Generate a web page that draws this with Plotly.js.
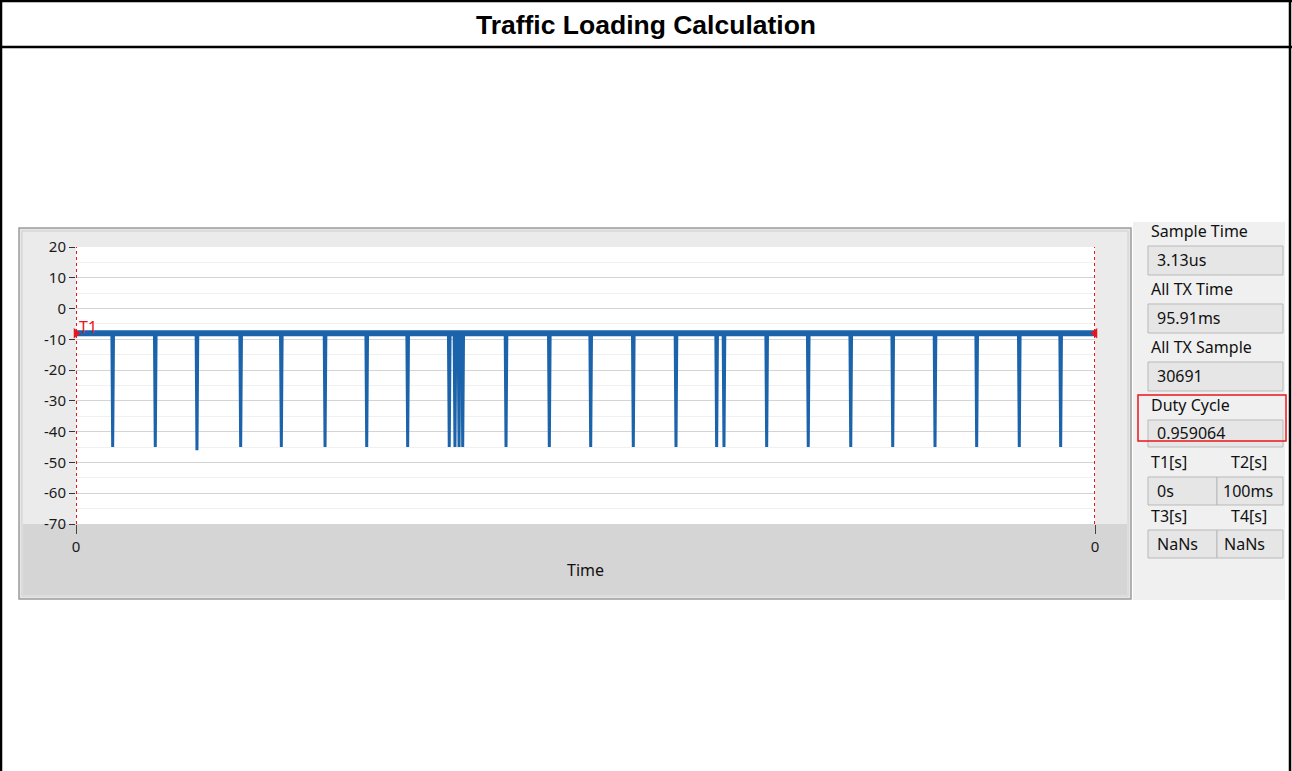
<!DOCTYPE html>
<html>
<head>
<meta charset="utf-8">
<script src="https://cdn.plot.ly/plotly-3.0.1.min.js"></script>
<style>
html,body{margin:0;padding:0;background:#fff;}
#chart{width:1292px;height:771px;}
</style>
</head>
<body>
<div id="chart"></div>
<script>
// ---- data ----
const chartTitle = "Traffic Loading Calculation";
const timeRangeMs = [0, 100];
const xTickLabels = ["0", "0"];
const yTickValues = [20, 10, 0, -10, -20, -30, -40, -50, -60, -70];
const baselineLevel = [-8, -8];
const baselineTimes = [0, 100];
const dipTimesMs = [3.60, 7.78, 11.87, 16.16, 20.15, 24.44, 28.53, 32.55, 36.63, 37.19, 37.59, 37.95,
                    42.20, 46.45, 50.51, 54.69, 58.88, 62.87, 63.59, 67.78, 71.86, 76.03, 80.15,
                    84.30, 88.39, 92.57, 96.63];
const dipDepths = [-45, -45, -46, -45, -45, -45, -45, -45, -45, -45, -45, -45,
                   -45, -45, -45, -45, -45, -45, -45, -45, -45, -45, -45,
                   -45, -45, -45, -45];
const cursorTimes = [0, 100];
const cursorNames = ["T1"];
const panelLabels = ["Sample Time", "All TX Time", "All TX Sample", "Duty Cycle"];
const panelValues = ["3.13us", "95.91ms", "30691", "0.959064"];
const cursorLabels = ["T1[s]", "T2[s]", "T3[s]", "T4[s]"];
const cursorValues = ["0s", "100ms", "NaNs", "NaNs"];

// ---- geometry helpers (pixel -> paper) ----
const L = 76, R = 1095, T = 247, B = 524;
const W = 1292, H = 771;
const PW = R - L, PH = B - T;
const px = x => (x - L) / PW;
const py = y => (B - y) / PH;

// ---- build traces ----
const dipX = [], dipY = [];
dipTimesMs.forEach((t, i) => {
  dipX.push(t - 0.08, t, t + 0.08, null);
  dipY.push(baselineLevel[0], dipDepths[i], baselineLevel[0], null);
});
const blue = "#1b63aa";
const traces = [
  {x: baselineTimes, y: baselineLevel, mode: "lines", line: {color: blue, width: 6}, hoverinfo: "skip", showlegend: false},
  {x: dipX, y: dipY, mode: "lines", line: {color: blue, width: 3}, connectgaps: false, hoverinfo: "skip", showlegend: false},
  {x: [cursorTimes[0]], y: [baselineLevel[0]], mode: "markers", marker: {symbol: "triangle-right", size: 9, color: "#e8161b"}, hoverinfo: "skip", showlegend: false, cliponaxis: false},
  {x: [cursorTimes[1]], y: [baselineLevel[0]], mode: "markers", marker: {symbol: "triangle-left", size: 9, color: "#e8161b"}, hoverinfo: "skip", showlegend: false, cliponaxis: false}
];

// ---- shapes ----
const rect = (x0, y0, x1, y1, fill, line, lw, layer) => ({
  type: "rect", xref: "paper", yref: "paper",
  x0: px(x0), x1: px(x1), y0: py(y1), y1: py(y0),
  fillcolor: fill, line: {color: line || "rgba(0,0,0,0)", width: lw || 0}, layer: layer || "below"
});
const shapes = [];
// graph frame
shapes.push(rect(19, 228, 1131, 599, "#e6e6e6", "#9c9c9c", 1.5));
shapes.push(rect(22, 231, 1128, 596, "#ebebeb", "#d0d0d0", 1));
// bottom band under plot
shapes.push(rect(23, 524, 1127, 595, "#d5d5d5"));
// plot area
shapes.push(rect(L, T, R, B, "#ffffff"));
// right panel background
shapes.push(rect(1133, 222, 1285, 600, "#f0f0f0"));
// value boxes
const boxSpecs = [
  [1148, 246, 1283, 275], [1148, 304, 1283, 333], [1148, 362, 1283, 391], [1148, 420, 1283, 447],
  [1148, 477, 1217, 505], [1217, 477, 1283, 505], [1148, 530, 1217, 558], [1217, 530, 1283, 558]
];
boxSpecs.forEach(b => shapes.push(rect(b[0], b[1], b[2], b[3], "#e6e6e6", "#b9b9b9", 1)));
// red highlight around Duty Cycle
shapes.push(rect(1138, 395, 1286, 441, "rgba(0,0,0,0)", "#e8161b", 1.5, "above"));
// cursors (dashed red verticals)
cursorTimes.forEach(t => shapes.push({
  type: "line", xref: "x", yref: "paper", x0: t, x1: t, y0: 0, y1: 1,
  line: {color: "#e8161b", width: 2, dash: "3px,3px"}, layer: "above"
}));
// page frame (black)
shapes.push({type: "line", xref: "paper", yref: "paper", x0: px(1), x1: px(1), y0: py(0), y1: py(H), line: {color: "#000", width: 2.5}, layer: "above"});
shapes.push({type: "line", xref: "paper", yref: "paper", x0: px(1290), x1: px(1290), y0: py(0), y1: py(H), line: {color: "#000", width: 2.5}, layer: "above"});
shapes.push({type: "line", xref: "paper", yref: "paper", x0: px(0), x1: px(W), y0: py(1), y1: py(1), line: {color: "#000", width: 2.5}, layer: "above"});
shapes.push({type: "line", xref: "paper", yref: "paper", x0: px(0), x1: px(W), y0: py(47), y1: py(47), line: {color: "#000", width: 2.5}, layer: "above"});

// ---- annotations ----
const uiFont = {family: "Noto Sans, Open Sans, sans-serif", size: 16, color: "#111"};
const ann = (text, x, y, opts) => Object.assign({
  text: text, xref: "paper", yref: "paper", x: px(x), y: py(y),
  xanchor: "left", yanchor: "middle", showarrow: false, font: uiFont
}, opts || {});
const annotations = [];
const labelY = [231, 289, 347, 405];
const valueY = [260, 318, 376, 433];
panelLabels.forEach((t, i) => annotations.push(ann(t, 1149, labelY[i])));
panelValues.forEach((t, i) => annotations.push(ann(t, 1155, valueY[i])));
const cLabX = [1149, 1229, 1149, 1229];
const cLabY = [462, 462, 516, 516];
cursorLabels.forEach((t, i) => annotations.push(ann(t, cLabX[i], cLabY[i])));
const cValX = [1155, 1221, 1155, 1222];
const cValY = [491, 491, 544, 544];
cursorValues.forEach((t, i) => annotations.push(ann(t, cValX[i], cValY[i])));
// cursor name
annotations.push({text: cursorNames[0], xref: "x", yref: "paper", x: cursorTimes[0], y: py(327),
  xanchor: "left", yanchor: "middle", xshift: 1, showarrow: false,
  font: {family: "Noto Sans, sans-serif", size: 16, color: "#e8161b"}});

const layout = {
  width: W, height: H,
  margin: {l: L, r: W - R, t: T, b: H - B, pad: 0},
  paper_bgcolor: "#ffffff",
  plot_bgcolor: "rgba(0,0,0,0)",
  title: {text: "<b>" + chartTitle + "</b>", x: 0.5, xref: "container", y: 1 - 25 / H, yref: "container",
          xanchor: "center", yanchor: "middle",
          font: {family: "Liberation Sans, Arial, sans-serif", size: 26.5, color: "#000"}},
  xaxis: {
    range: timeRangeMs, tickvals: cursorTimes, ticktext: xTickLabels,
    showgrid: false, zeroline: false, showline: false,
    ticks: "outside", ticklen: 9, tickcolor: "#444", tickwidth: 1,
    tickfont: {family: "Noto Sans, sans-serif", size: 15, color: "#1a1a1a"},
    title: {text: "Time", font: {family: "Noto Sans, sans-serif", size: 16, color: "#111"}, standoff: 9},
    fixedrange: true
  },
  yaxis: {
    range: [-70, 20], tickvals: yTickValues, ticktext: yTickValues.map(String),
    showgrid: true, gridcolor: "#d4d4d4", gridwidth: 1,
    minor: {dtick: 5, showgrid: true, gridcolor: "#f0f0f0", ticks: ""},
    zeroline: false, showline: false,
    ticks: "outside", ticklen: 6, tickcolor: "#333", tickwidth: 1,
    tickfont: {family: "Noto Sans, sans-serif", size: 15, color: "#1a1a1a"},
    fixedrange: true
  },
  shapes: shapes,
  annotations: annotations,
  showlegend: false
};

Plotly.newPlot("chart", traces, layout, {displayModeBar: false, staticPlot: true});
</script>
</body>
</html>
